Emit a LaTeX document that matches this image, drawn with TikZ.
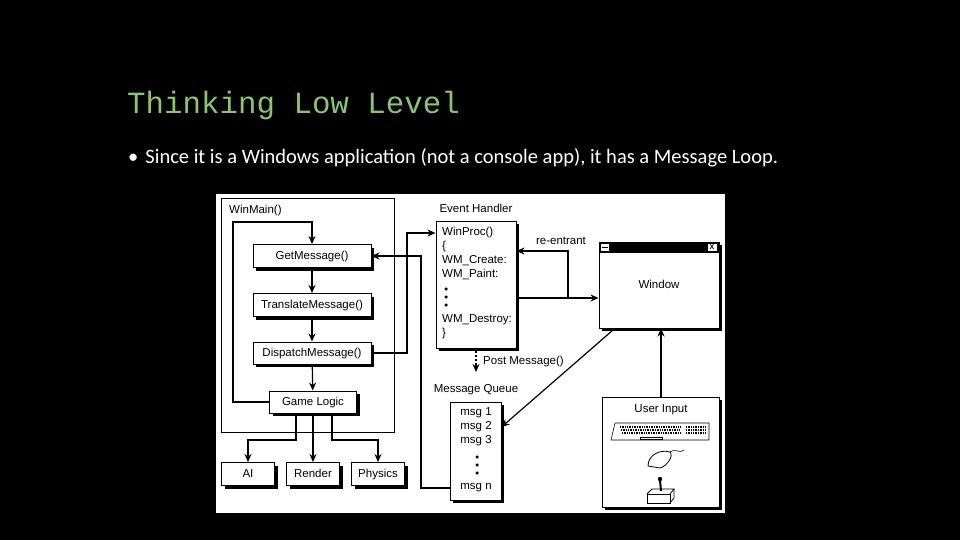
\documentclass[tikz,border=0pt]{standalone}
\usepackage{fontspec}
\setmainfont{Carlito}
\newfontfamily\titlefont{Liberation Mono}
\newfontfamily\diafont{Liberation Sans}
\usetikzlibrary{shadows,arrows.meta}
\definecolor{titlegreen}{HTML}{8CC56E}
\tikzset{
box/.style={rectangle,draw=black,fill=white,line width=1pt,inner sep=0pt,
font=\diafont\fontsize{11.5}{12}\selectfont,text height=8.5pt,text depth=2.5pt,
drop shadow={shadow xshift=3pt,shadow yshift=-3pt,fill=black,opacity=1}},
lbl/.style={font=\diafont\fontsize{11.5}{12}\selectfont,inner sep=0pt},
conn/.style={line width=1.2pt,-{Stealth[length=8pt,width=7pt]}},
dot/.style={fill=black,circle,inner sep=0pt,minimum size=3.5pt}
}
\begin{document}
\begin{tikzpicture}[x=1pt,y=-1pt]
\useasboundingbox[fill=black] (0,0) rectangle (960,540);
% heading
\node[anchor=base west,inner sep=0pt,text=titlegreen,font=\titlefont\fontsize{30.8}{32}\selectfont] (title) at (127,114) {Thinking Low Level};
\node[anchor=base west,inner sep=0pt,text=white,font=\fontsize{20.5}{22}\selectfont] (bullet) at (128,164) {\textbullet\hspace{7pt}Since it is a Windows application (not a console app), it has a Message Loop.};
% diagram background
\fill[white] (216,194) rectangle (725,513);
\draw[line width=1pt] (221,198) rectangle (394,432);
\node[lbl,anchor=west] (winmain) at (229,211) {WinMain()};
% message loop boxes
\node[box,minimum width=118pt,minimum height=23pt] (getmsg) at (312,256) {GetMessage()};
\node[box,minimum width=118pt,minimum height=23pt] (transmsg) at (312,305) {TranslateMessage()};
\node[box,minimum width=118pt,minimum height=22pt] (dispmsg) at (312,353) {DispatchMessage()};
\node[box,minimum width=87pt,minimum height=22pt] (logic) at (313,402) {Game Logic};
\node[box,minimum width=53pt,minimum height=23pt] (ai) at (248,474) {AI};
\node[box,minimum width=53pt,minimum height=23pt] (render) at (313,474) {Render};
\node[box,minimum width=53pt,minimum height=23pt] (physics) at (378,474) {Physics};
\draw[conn] (getmsg) -- (transmsg);
\draw[conn] (transmsg) -- (dispmsg);
\draw[conn] (dispmsg) -- (logic);
\draw[conn] (logic.west) -| (233,222) -| (getmsg.north);
\draw[conn] (logic.south) -- (render);
\draw[conn] ([xshift=-17pt]logic.south) |- (248,440) -- (ai);
\draw[conn] ([xshift=19pt]logic.south) |- (378,440) -- (physics);
% event handler
\node[lbl] (ehlabel) at (476,208) {Event Handler};
\node[box,minimum width=80pt,minimum height=127pt] (handler) at (476,284.5) {};
\node[lbl,anchor=north west,align=left,font=\diafont\fontsize{11.5}{14}\selectfont] (handlertop) at (442,227)
{WinProc()\\\{\\WM\_Create:\\WM\_Paint:};
\foreach \y [count=\i] in {289,297,305} \node[dot] (hdot\i) at (446,\y) {};
\node[lbl,anchor=north west,align=left,font=\diafont\fontsize{11.5}{14}\selectfont] (handlerbot) at (442,314)
{WM\_Destroy:\\\}};
\draw[conn] (dispmsg.east) -| (407,233) -- (handler.west |- 0,233);
% window
\node[box,minimum width=120pt,minimum height=86pt] (window) at (659,285) {Window};
\fill[black] (599,242) rectangle (719,253);
\fill[white] (601,244) rectangle (609,251);
\draw[line width=0.6pt] (602,247.5) -- (608,247.5);
\draw[fill=white,line width=0.4pt] (707,243.5) rectangle (717,251.5);
\node[lbl,font=\diafont\bfseries\fontsize{7}{7}\selectfont] (closex) at (712,247.5) {X};
\draw[conn] (handler.east |- 0,298) -- (window.west |- 0,298);
\coordinate (reentry) at (568,298);
\draw[conn] (reentry) |- (handler.east |- 0,251);
\node[lbl] (relabel) at (561,241) {re-entrant};
% message queue
\draw[line width=1.2pt,dash pattern=on 2pt off 2pt] (handler.south |- 0,351) -- (476,365);
\draw[line width=1.2pt,-{Stealth[length=8pt,width=7pt]}] (476,364) -- (476,372);
\node[lbl,anchor=west] (postlabel) at (483,362) {Post Message()};
\node[lbl] (mqlabel) at (476,390) {Message Queue};
\node[box,minimum width=51pt,minimum height=98pt] (queue) at (475.5,451) {};
\node[lbl,anchor=north,align=center,font=\diafont\fontsize{11.5}{14}\selectfont] (queuetext) at (476,407)
{msg 1\\msg 2\\msg 3};
\foreach \y [count=\i] in {457,465,473} \node[dot] (qdot\i) at (477,\y) {};
\node[lbl] (lastmsg) at (476,488) {msg n};
\draw[conn] (queue.west |- 0,488) -| (421,256) -- (getmsg.east);
\draw[conn] (613,330) -- (queue.east |- 0,427);
% user input
\node[box,minimum width=117pt,minimum height=110pt] (input) at (660.5,452) {};
\node[lbl] (inlabel) at (661,410) {User Input};
\draw[conn] (input.north -| 661,0) -- (window.south -| 661,0);
% keyboard
\draw[line width=0.6pt] (611,440) -- (615,423) -- (709,423) -- (709,440) -- cycle;
\foreach \r in {0,1,2} {
  \draw[line width=2pt,dash pattern=on 1pt off 0.7pt] (620+\r,427+3*\r) -- (680,427+3*\r);
  \draw[line width=2pt,dash pattern=on 1pt off 0.7pt] (686,427+3*\r) -- (705,427+3*\r);
}
\draw[line width=0.5pt] (640,437) rectangle (662,439.5);
% mouse
\draw[line width=0.8pt] (648,466) .. controls (648,455) and (660,449) .. (670,452) .. controls (674,456) and (667,466) .. (660,468) -- cycle;
\draw[line width=0.6pt] (670,452) .. controls (676,448) and (680,454) .. (684,450);
% joystick
\draw[line width=0.8pt,fill=white] (647,494) rectangle (670,503);
\draw[line width=0.8pt] (647,494) -- (652,489) -- (674,489) -- (670,494);
\draw[line width=0.8pt] (674,489) -- (674,498) -- (670,503);
\draw[line width=2pt] (661,491) -- (660,480);
\fill (660,479) circle (2.2pt);
\end{tikzpicture}
\end{document}
